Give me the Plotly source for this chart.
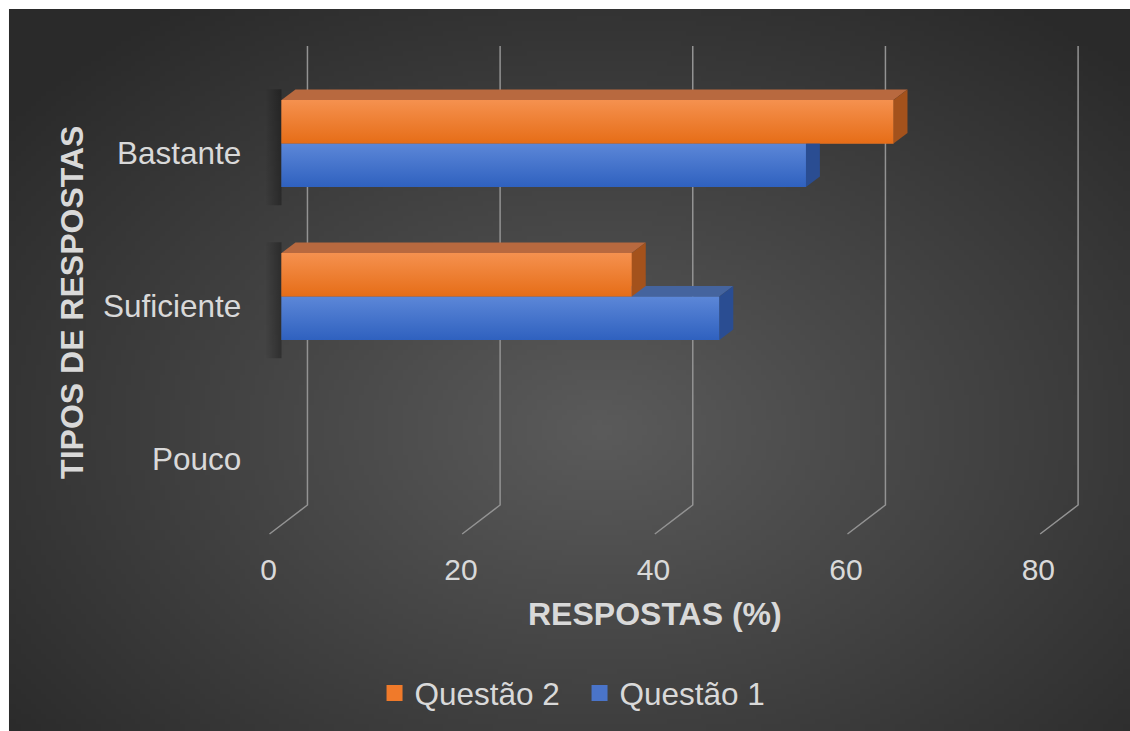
import base64
import struct
import zlib

import numpy as np
import plotly.graph_objects as go

# ---------------- data ----------------
categories = ["Pouco", "Suficiente", "Bastante"]
questao1 = [0, 45.5, 54.5]
questao2 = [0, 36.4, 63.6]
x_ticks = [0, 20, 40, 60, 80]
x_title = "RESPOSTAS (%)"
y_title = "TIPOS DE RESPOSTAS"

W, H = 1130, 731
FONT = "Liberation Sans, Arial, sans-serif"
TXT = "#d9d9d9"


def fx(px):
    return px / W


def fy(py):
    return 1 - py / H


# ---------------- background radial gradient (decoration) ----------------
def make_png(arr):
    h, w = arr.shape[:2]
    raw = b"".join(b"\x00" + arr[r].tobytes() for r in range(h))

    def chunk(tag, data):
        c = struct.pack(">I", len(data)) + tag + data
        return c + struct.pack(">I", zlib.crc32(tag + data) & 0xFFFFFFFF)

    png = b"\x89PNG\r\n\x1a\n"
    png += chunk(b"IHDR", struct.pack(">IIBBBBB", w, h, 8, 2, 0, 0, 0))
    png += chunk(b"IDAT", zlib.compress(raw, 9))
    png += chunk(b"IEND", b"")
    return "data:image/png;base64," + base64.b64encode(png).decode()


gw, gh = 226, 145
X0, Y0 = 7, 9
ii, jj = np.meshgrid(np.arange(gw), np.arange(gh))
Xp = X0 + (ii + 0.5) / gw * (W - X0)
Yp = Y0 + (jj + 0.5) / gh * (H - Y0)
r = np.sqrt(((Xp - 600) / 760) ** 2 + ((Yp - 430) / 520) ** 2)
r = np.clip(r, 0, 1)
val = (0x5B + (0x2A - 0x5B) * r).astype(np.uint8)
img = np.stack([val, val, val], axis=-1).astype(np.uint8)
bg_src = make_png(img)

fig = go.Figure()

# ---------------- back-wall gridlines (subplot x/y) ----------------
gx, gy = [], []
for t in x_ticks:
    gx += [t, t, t - 3.94, None]
    gy += [494, 35, 6, None]
fig.add_trace(go.Scatter(x=gx, y=gy, mode="lines",
                         line=dict(color="#939393", width=1.5),
                         hoverinfo="skip", showlegend=False,
                         xaxis="x", yaxis="y"))

# ---------------- bars (subplot x2/y2) ----------------
ypos = list(range(len(categories)))
bw = 0.284
dx, dy = 1.45, 0.0686

fig.add_trace(go.Bar(y=ypos, x=questao1, orientation="h", width=bw, offset=-bw,
                     marker=dict(color="#4472c4", line=dict(width=0)),
                     name="Questão 1", showlegend=False, xaxis="x2", yaxis="y2"))
fig.add_trace(go.Bar(y=ypos, x=questao2, orientation="h", width=bw, offset=0,
                     marker=dict(color="#ed7d31", line=dict(width=0)),
                     name="Questão 2", showlegend=False, xaxis="x2", yaxis="y2"))

# soft shadows at the left of each bar group
for y, a, b in zip(ypos, questao1, questao2):
    if max(a, b) <= 0:
        continue
    fig.add_trace(go.Scatter(
        x=[-1.7, 0, 0, -1.7], y=[y - bw - 0.12, y - bw - 0.12, y + bw + 0.07, y + bw + 0.07],
        mode="lines", fill="toself", line=dict(width=0),
        fillgradient=dict(type="horizontal",
                          colorscale=[[0, "rgba(0,0,0,0)"], [1, "rgba(0,0,0,0.32)"]]),
        hoverinfo="skip", showlegend=False, xaxis="x2", yaxis="y2"))


def add_faces(vals, off, c_bot, c_top, c_topface, c_end):
    for y, v in zip(ypos, vals):
        if v <= 0:
            continue
        y0 = y + off
        y1 = y0 + bw
        common = dict(mode="lines", fill="toself", line=dict(width=0),
                      hoverinfo="skip", showlegend=False, xaxis="x2", yaxis="y2")
        fig.add_trace(go.Scatter(
            x=[0, v, v, 0], y=[y0, y0, y1, y1],
            fillgradient=dict(type="vertical", colorscale=[[0, c_bot], [1, c_top]]),
            **common))
        fig.add_trace(go.Scatter(
            x=[0, v, v + dx, dx], y=[y1, y1, y1 + dy, y1 + dy],
            fillcolor=c_topface, **common))
        fig.add_trace(go.Scatter(
            x=[v, v + dx, v + dx, v], y=[y0, y0 + dy, y1 + dy, y1],
            fillcolor=c_end, **common))


add_faces(questao1, -bw, "#2f61bf", "#5c87d8", "#45649e", "#2a4d92")
add_faces(questao2, 0, "#e66d17", "#f5914f", "#b8693f", "#a4521c")

# legend entries
fig.add_trace(go.Scatter(x=[None], y=[None], mode="markers", name="Questão 2",
                         marker=dict(symbol="square", size=16, color="#f07a2a"),
                         xaxis="x2", yaxis="y2"))
fig.add_trace(go.Scatter(x=[None], y=[None], mode="markers", name="Questão 1",
                         marker=dict(symbol="square", size=16, color="#4a74c9"),
                         xaxis="x2", yaxis="y2"))

fig.update_layout(
    width=W, height=H,
    margin=dict(l=0, r=0, t=0, b=0),
    paper_bgcolor="white",
    plot_bgcolor="rgba(0,0,0,0)",
    barmode="overlay",
    font=dict(family=FONT, color=TXT, size=31),
    showlegend=True,
    legend=dict(orientation="h", x=0.512, xanchor="center", y=fy(693), yanchor="middle",
                bgcolor="rgba(0,0,0,0)", font=dict(size=31.5, color=TXT),
                entrywidth=160, entrywidthmode="pixels",
                itemclick=False, itemdoubleclick=False),
    xaxis=dict(domain=[(306 - 5 * 9.65) / W, (306 + 81 * 9.65) / W], range=[-5, 81],
               visible=False, anchor="y", fixedrange=True),
    yaxis=dict(domain=[fy(540), fy(40)], range=[0, 500], visible=False,
               anchor="x", fixedrange=True),
    xaxis2=dict(domain=[(280 - 2 * 9.64) / W, (280 + 82 * 9.64) / W], range=[-2, 82],
                anchor="y2", tickvals=x_ticks, ticks="", showgrid=False, zeroline=False,
                showline=False, tickfont=dict(size=30, color=TXT),
                ticklabelshift=-13, ticklabelstandoff=8, fixedrange=True),
    yaxis2=dict(domain=[fy(541.3), fy(36.4)], range=[-0.6, 2.7], anchor="x2",
                tickvals=ypos, ticktext=categories, ticks="", showgrid=False,
                zeroline=False, showline=False, tickfont=dict(size=31.5, color=TXT),
                ticklabelshift=9, ticklabelstandoff=20, fixedrange=True),
    images=[dict(source=bg_src, xref="paper", yref="paper", x=fx(X0), y=fy(Y0),
                 sizex=1 - fx(X0), sizey=fy(Y0), xanchor="left", yanchor="top",
                 sizing="stretch", layer="below")],
    annotations=[
        dict(text="<b>" + x_title + "</b>", x=fx(654), y=fy(614), xref="paper", yref="paper",
             showarrow=False, font=dict(size=32, color=TXT), xanchor="center", yanchor="middle"),
        dict(text="<b>" + y_title + "</b>", x=fx(70), y=fy(302), xref="paper", yref="paper",
             showarrow=False, textangle=-90, font=dict(size=32, color=TXT),
             xanchor="center", yanchor="middle"),
    ],
)

fig.write_html("out.html", config={"displayModeBar": False},
               post_script="document.body.style.margin='0';document.body.style.overflow='hidden';")
